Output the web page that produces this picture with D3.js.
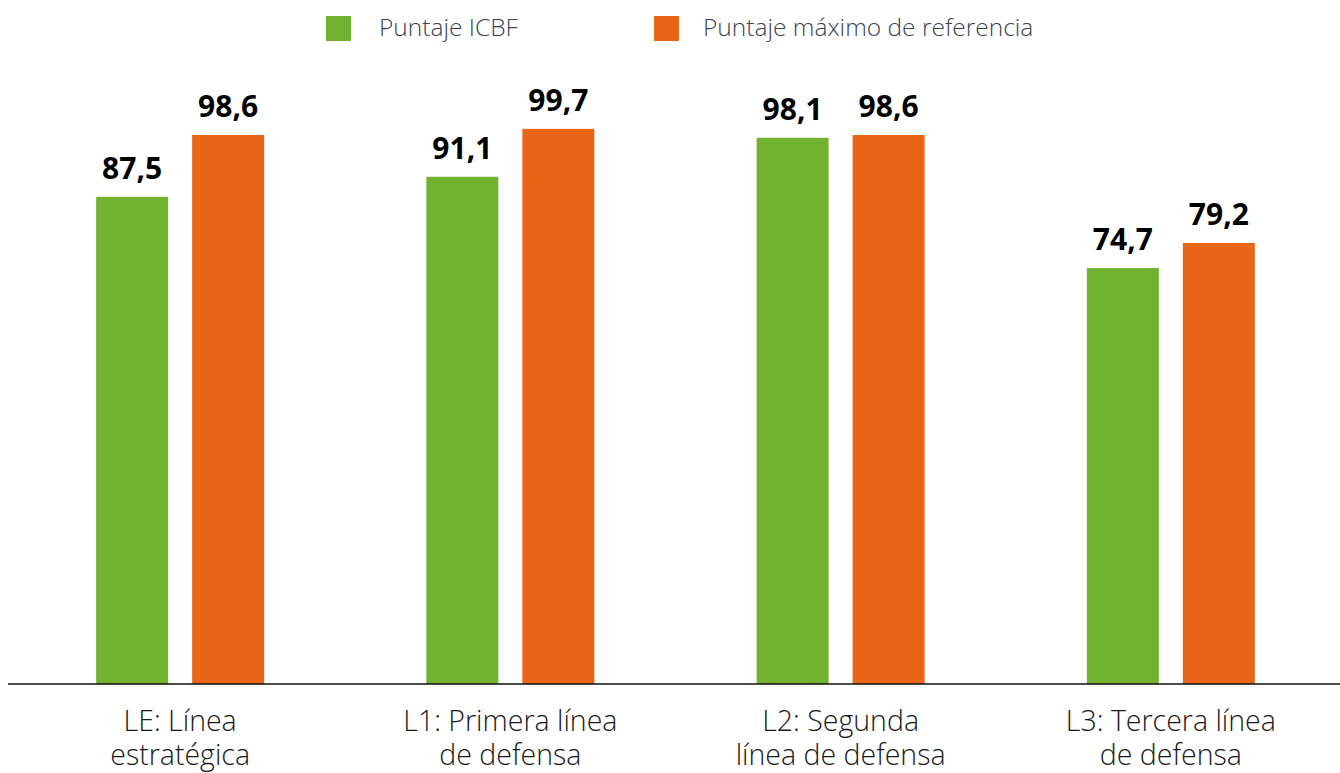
<!DOCTYPE html>
<html>
<head>
<meta charset="utf-8">
<script src="https://cdn.jsdelivr.net/npm/d3@7"></script>
<style>
  body { margin: 0; background: #fff; }
</style>
</head>
<body>
<script>
// data
var categories = [
    ["LE: Línea", "estratégica"],
    ["L1: Primera línea", "de defensa"],
    ["L2: Segunda", "línea de defensa"],
    ["L3: Tercera línea", "de defensa"]
];
var seriesNames = ["Puntaje ICBF", "Puntaje máximo de referencia"];
var icbfValues = [87.5, 91.1, 98.1, 74.7];
var maxValues = [98.6, 99.7, 98.6, 79.2];
var colors = ["#72b231", "#e86615"];

var width = 1340, height = 773;
var baseline = 684;

var locale = d3.formatLocale({decimal: ",", thousands: ".", grouping: [3], currency: ["", ""]});
var fmt = locale.format(".1f");

var svg = d3.select("body").append("svg")
    .attr("width", width)
    .attr("height", height);

var x0 = d3.scaleBand()
    .domain(d3.range(categories.length))
    .range([15, 1336])
    .paddingInner(0.4913)
    .paddingOuter(0.2457);

var x1 = d3.scaleBand()
    .domain(seriesNames)
    .range([0, x0.bandwidth()])
    .paddingInner(0.25);

var y = d3.scaleLinear()
    .domain([0, 100])
    .range([baseline, 127.2]);

var rows = categories.map(function(c, i) {
    return [
        {series: seriesNames[0], value: icbfValues[i], color: colors[0]},
        {series: seriesNames[1], value: maxValues[i], color: colors[1]}
    ];
});

var groups = svg.selectAll("g.cat")
    .data(rows)
    .enter()
    .append("g")
    .attr("class", "cat")
    .attr("transform", function(d, i) { return "translate(" + x0(i) + ",0)"; });

groups.selectAll("rect")
    .data(function(d) { return d; })
    .enter()
    .append("rect")
    .attr("x", function(d) { return x1(d.series); })
    .attr("y", function(d) { return y(d.value); })
    .attr("width", x1.bandwidth())
    .attr("height", function(d) { return baseline - y(d.value); })
    .attr("fill", function(d) { return d.color; });

groups.selectAll("text.val")
    .data(function(d) { return d; })
    .enter()
    .append("text")
    .attr("class", "val")
    .attr("x", function(d) { return x1(d.series) + x1.bandwidth() / 2; })
    .attr("y", function(d) { return y(d.value) - 18; })
    .attr("text-anchor", "middle")
    .attr("font-family", "'Open Sans', sans-serif")
    .attr("font-weight", "bold")
    .attr("font-size", "30px")
    .attr("fill", "#000")
    .text(function(d) { return fmt(d.value); });

// axis line
svg.append("line")
    .attr("x1", 8)
    .attr("x2", width)
    .attr("y1", baseline)
    .attr("y2", baseline)
    .attr("stroke", "#111")
    .attr("stroke-width", 1.5);

// category labels
var catLabels = svg.selectAll("text.cat")
    .data(categories)
    .enter()
    .append("text")
    .attr("class", "cat")
    .attr("text-anchor", "middle")
    .attr("font-family", "'Open Sans', sans-serif")
    .attr("font-weight", 300)
    .attr("font-size", "28.5px")
    .attr("fill", "#1a1a1a");

catLabels.selectAll("tspan")
    .data(function(d, i) { return d.map(function(line) { return {line: line, i: i}; }); })
    .enter()
    .append("tspan")
    .attr("x", function(d) { return x0(d.i) + x0.bandwidth() / 2; })
    .attr("y", function(d, j) { return 731 + j * 34; })
    .text(function(d) { return d.line; });

// legend
var legendX = [326, 654];
var legendTextX = [53, 49];
var legend = svg.selectAll("g.legend")
    .data(seriesNames)
    .enter()
    .append("g")
    .attr("class", "legend")
    .attr("transform", function(d, i) { return "translate(" + legendX[i] + ",16)"; });

legend.append("rect")
    .attr("width", 25)
    .attr("height", 25)
    .attr("fill", function(d, i) { return colors[i]; });

legend.append("text")
    .attr("x", function(d, i) { return legendTextX[i]; })
    .attr("y", 20)
    .attr("font-family", "'Open Sans', sans-serif")
    .attr("font-weight", 300)
    .attr("font-size", "24.5px")
    .attr("fill", "#3b3f52")
    .text(function(d) { return d; });
</script>
</body>
</html>
